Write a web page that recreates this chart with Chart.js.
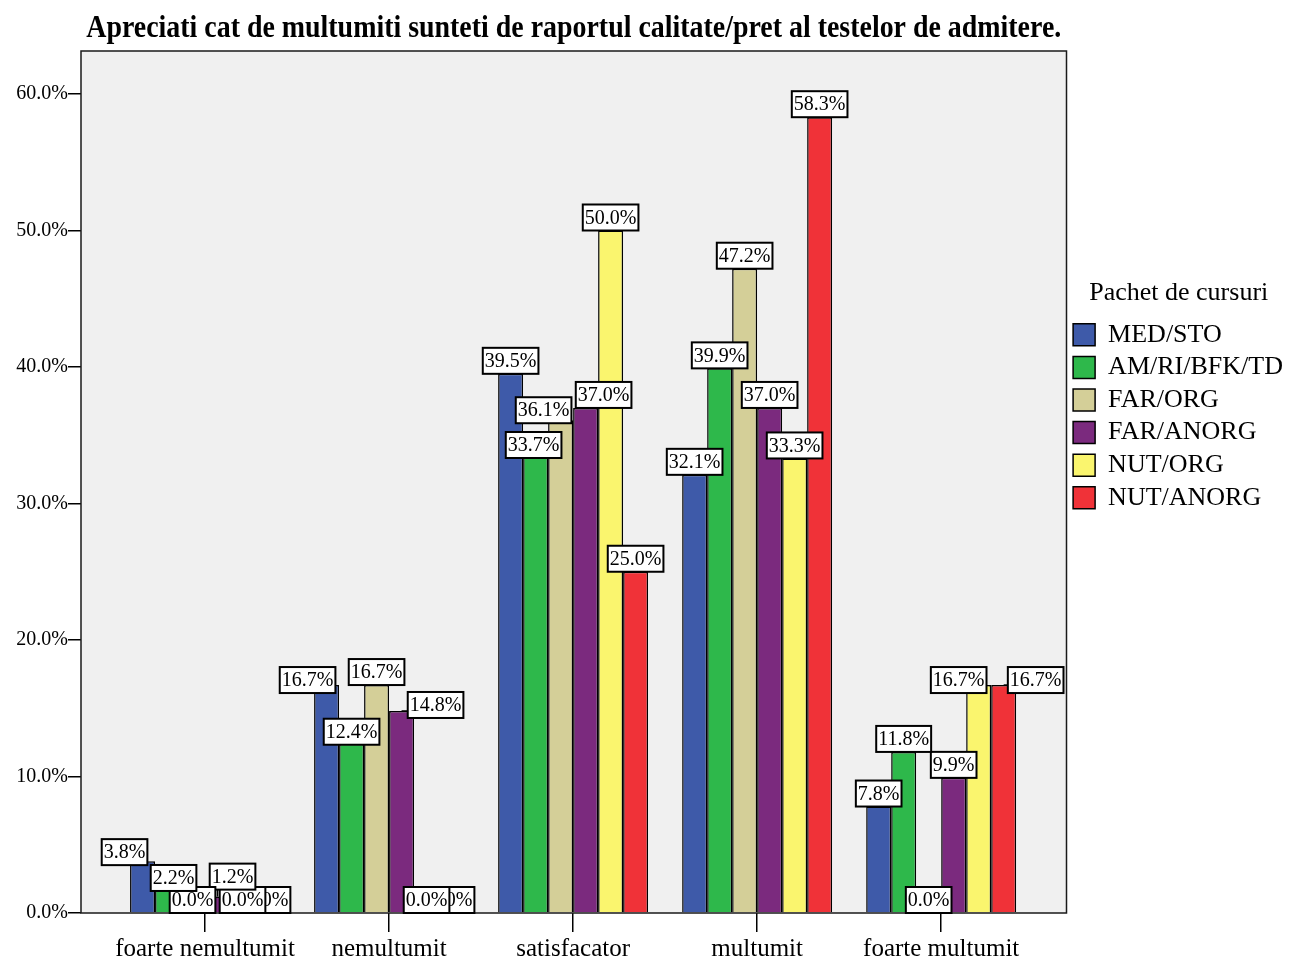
<!DOCTYPE html>
<html lang="ro">
<head>
<meta charset="utf-8">
<title>Raport calitate/pret</title>
<script src="https://cdn.jsdelivr.net/npm/chart.js@4.4.1/dist/chart.umd.min.js"></script>
<style>
    html, body { margin: 0; padding: 0; background: #fff; }
    #cutie { width: 1291px; height: 962px; }
</style>
</head>
<body>
<div id="cutie"><canvas id="grafic" width="1291" height="962"></canvas></div>
<script>
// Datele (procente pe fiecare pachet de cursuri)
const titlu = 'Apreciati cat de multumiti sunteti de raportul calitate/pret al testelor de admitere.';
const categorii = ['foarte nemultumit', 'nemultumit', 'satisfacator', 'multumit', 'foarte multumit'];
const pachete = ['MED/STO', 'AM/RI/BFK/TD', 'FAR/ORG', 'FAR/ANORG', 'NUT/ORG', 'NUT/ANORG'];
const medSto = [3.8, 16.7, 39.5, 32.1, 7.8];
const amRiBfkTd = [2.2, 12.4, 33.7, 39.9, 11.8];
const farOrg = [0.0, 16.7, 36.1, 47.2, 0.0];
const farAnorg = [1.2, 14.8, 37.0, 37.0, 9.9];
const nutOrg = [0.0, 0.0, 50.0, 33.3, 16.7];
const nutAnorg = [0.0, 0.0, 25.0, 58.3, 16.7];
const valoriAxaY = [0, 10, 20, 30, 40, 50, 60];

const serii = [medSto, amRiBfkTd, farOrg, farAnorg, nutOrg, nutAnorg];
const culori = ['#3e5aa9', '#2eb84b', '#d4cf98', '#7b2a7e', '#faf56e', '#f03238'];

// Mutari ale etichetelor (pixeli) ca sa nu se suprapuna, ca in original
const deplasari = [
    [[-18, 4], [-19, 8], [0, 0], [0, 0], [0, 0]],
    [[6, 8], [0, 1], [-2, 5], [0, 0], [0, 0]],
    [[0, 0], [0, 0], [-17, 3], [0, 0], [0, 0]],
    [[15, -7], [34, 7], [18, 0], [0, 0], [0, 0]],
    [[0, 0], [0, 0], [0, 0], [0, 0], [-20, 8]],
    [[0, 0], [0, 0], [0, 0], [0, 0], [32, 8]]
];

Chart.defaults.font.family = '"Liberation Serif", "Times New Roman", serif';
Chart.defaults.color = '#000';

// Fundal gri si chenar pentru zona graficului
const chenar = {
    id: 'chenar',
    beforeDraw(chart) {
        const a = chart.chartArea;
        const ctx = chart.ctx;
        ctx.save();
        ctx.fillStyle = '#f0f0f0';
        ctx.fillRect(a.left, a.top, a.right - a.left, a.bottom - a.top);
        ctx.restore();
    },
    afterDatasetsDraw(chart) {
        const a = chart.chartArea;
        const ctx = chart.ctx;
        ctx.save();
        ctx.strokeStyle = '#1a1a1a';
        ctx.lineWidth = 1.5;
        ctx.strokeRect(a.left, a.top, a.right - a.left, a.bottom - a.top);
        ctx.restore();
    }
};

// Etichetele cu valori deasupra barelor
const etichete = {
    id: 'etichete',
    afterDatasetsDraw(chart) {
        const ctx = chart.ctx;
        ctx.save();
        ctx.font = '20px "Liberation Serif"';
        ctx.textAlign = 'center';
        ctx.textBaseline = 'middle';
        for (let d = chart.data.datasets.length - 1; d >= 0; d--) {
            const meta = chart.getDatasetMeta(d);
            meta.data.forEach(function (bara, i) {
                const text = serii[d][i].toFixed(1) + '%';
                const w = ctx.measureText(text).width + 4;
                const h = 26;
                const dx = deplasari[d][i][0];
                const dy = deplasari[d][i][1];
                const cx = bara.x + dx;
                const x0 = cx - w / 2;
                const y0 = bara.y + dy - h;
                // linie de legatura daca eticheta a fost mutata
                const px = Math.min(Math.max(bara.x, x0), x0 + w);
                const py = Math.min(Math.max(bara.y, y0), y0 + h);
                if (px !== bara.x || py !== bara.y) {
                    ctx.strokeStyle = '#000';
                    ctx.lineWidth = 1.5;
                    ctx.beginPath();
                    ctx.moveTo(bara.x, bara.y);
                    ctx.lineTo(px, py);
                    ctx.stroke();
                }
                ctx.fillStyle = '#fff';
                ctx.fillRect(x0, y0, w, h);
                ctx.strokeStyle = '#000';
                ctx.lineWidth = 2;
                ctx.strokeRect(x0, y0, w, h);
                ctx.fillStyle = '#000';
                ctx.fillText(text, cx, y0 + h / 2 + 1);
            });
        }
        ctx.restore();
    }
};

// Titlul, ingustat pe orizontala ca in original
const titluSus = {
    id: 'titluSus',
    afterDraw(chart) {
        const ctx = chart.ctx;
        const a = chart.chartArea;
        ctx.save();
        ctx.font = 'bold 31px "Liberation Serif"';
        const w = ctx.measureText(titlu).width;
        const sx = Math.min(1, 975 / w);
        ctx.translate((a.left + a.right) / 2, 37);
        ctx.scale(sx, 1);
        ctx.textAlign = 'center';
        ctx.textBaseline = 'alphabetic';
        ctx.fillStyle = '#000';
        ctx.fillText(titlu, 0, 0);
        ctx.restore();
    }
};

const seturi = [];
for (let s = 0; s < pachete.length; s++) {
    seturi.push({
        label: pachete[s],
        data: serii[s].map(function (v, i) { return { x: i, y: v }; }),
        backgroundColor: culori[s],
        borderColor: '#000',
        borderWidth: 1.5,
        categoryPercentage: 0.815,
        barPercentage: 1
    });
}

const config = {
    type: 'bar',
    data: { datasets: seturi },
    options: {
        responsive: false,
        animation: false,
        layout: { padding: { top: 51, left: 0, right: 0, bottom: 0 } },
        scales: {
            x: {
                type: 'linear',
                offset: false,
                min: -0.674,
                max: 4.681,
                afterBuildTicks: function (s) { s.ticks = categorii.map(function (c, i) { return { value: i }; }); },
                afterFit: function (s) { s.height = 49; },
                grid: { offset: false, drawOnChartArea: false, drawTicks: true, tickLength: 19, color: '#000', lineWidth: 1.5 },
                border: { display: false },
                ticks: {
                    callback: function (v) { return categorii[v]; },
                    font: { size: 25 },
                    color: '#000',
                    padding: 2,
                    maxRotation: 0,
                    autoSkip: false
                }
            },
            y: {
                min: 0,
                max: 63.15,
                afterBuildTicks: function (s) { s.ticks = valoriAxaY.map(function (v) { return { value: v }; }); },
                afterFit: function (s) { s.width = 81; },
                grid: { drawOnChartArea: false, drawTicks: true, tickLength: 13, color: '#000', lineWidth: 1.5 },
                border: { display: false },
                ticks: {
                    callback: function (v) { return v.toFixed(1) + '%'; },
                    font: { size: 20 },
                    color: '#000',
                    padding: 0
                }
            }
        },
        plugins: {
            tooltip: { enabled: false },
            legend: {
                position: 'right',
                align: 'start',
                maxWidth: 224.5,
                title: {
                    display: true,
                    text: 'Pachet de cursuri',
                    color: '#000',
                    font: { size: 26 },
                    padding: { top: 229, bottom: 4 }
                },
                labels: {
                    boxWidth: 22,
                    boxHeight: 22,
                    padding: 6.6,
                    color: '#000',
                    font: { size: 26 }
                }
            }
        }
    },
    plugins: [chenar, etichete, titluSus]
};

let grafic = new Chart(document.getElementById('grafic'), config);
</script>
</body>
</html>
